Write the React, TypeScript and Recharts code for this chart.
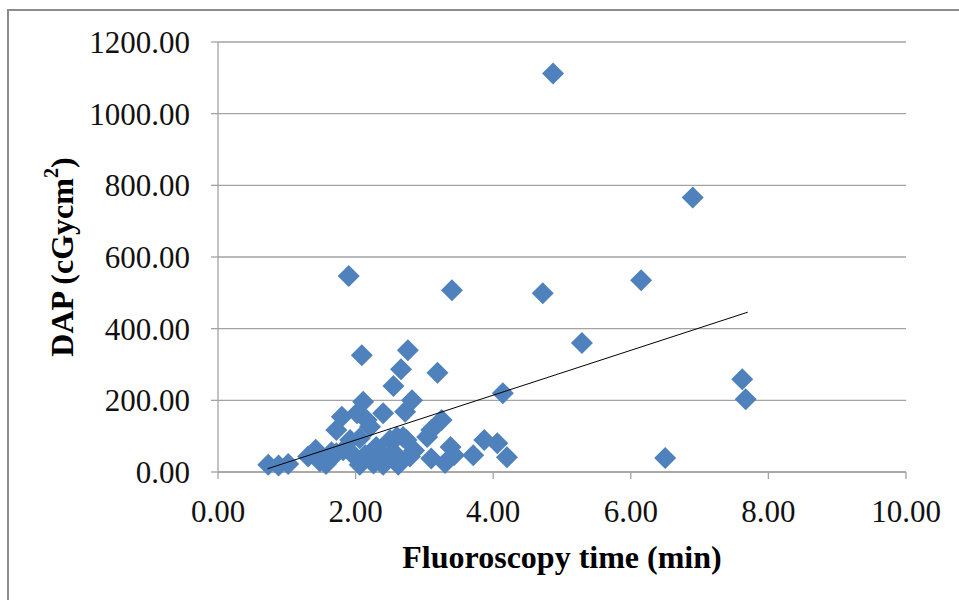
import React from 'react'
import {
  ScatterChart,
  Scatter,
  XAxis,
  YAxis,
  CartesianGrid,
  Label,
} from 'recharts'

// fluoroscopy time (min) / DAP (cGycm2) pairs
const TIMES = [
  0.73, 0.88, 1.02, 1.31, 1.42, 1.48, 1.57, 1.65, 1.72, 1.72,
  1.8, 1.82, 1.9, 1.92, 1.98, 2.02, 2.06, 2.06, 2.09, 2.11,
  2.14, 2.16, 2.21, 2.26, 2.3, 2.4, 2.4, 2.43, 2.5, 2.55,
  2.55, 2.6, 2.6, 2.62, 2.66, 2.69, 2.72, 2.74, 2.76, 2.79,
  2.82, 2.85, 3.04, 3.1, 3.1, 3.19, 3.25, 3.3, 3.38, 3.4,
  3.43, 3.71, 3.87, 4.06, 4.14, 4.2, 4.72, 4.87, 5.29, 6.15,
  6.5, 6.9, 7.62, 7.67,
]
const DAP = [
  20, 18, 22, 43, 62, 30, 22, 55, 117, 52,
  154, 61, 547, 89, 45, 164, 94, 20, 326, 196,
  47, 145, 126, 24, 70, 164, 20, 40, 89, 240,
  55, 43, 98, 20, 287, 98, 168, 89, 340, 43,
  200, 60, 98, 117, 38, 277, 145, 25, 70, 507,
  47, 47, 89, 80, 220, 41, 499, 1112, 360, 535,
  39, 766, 259, 203,
]

// linear trendline end points
const TREND_X = [0.72, 7.7]
const TREND_Y = [9, 446]

const X_TICKS = [0, 2, 4, 6, 8, 10]
const Y_TICKS = [0, 200, 400, 600, 800, 1000, 1200]

const points = TIMES.map((t, i) => ({ t, dap: DAP[i] }))
const trend = TREND_X.map((t, i) => ({ t, dap: TREND_Y[i] }))

const FONT = '"Liberation Serif", "Times New Roman", serif'
const BLUE = '#4f81bd'
const GRID = '#a3a3a3'

function Diamond(props: any) {
  const { cx, cy } = props
  if (cx == null || cy == null) return null
  const r = 11
  return (
    <polygon
      points={`${cx},${cy - r} ${cx + r},${cy} ${cx},${cy + r} ${cx - r},${cy}`}
      fill={BLUE}
    />
  )
}

const NoDot = () => <g />

function YTitle(props: any) {
  const vb = props.viewBox || {}
  const x = (vb.x ?? 0) + 62
  const y = (vb.y ?? 0) + (vb.height ?? 0) / 2
  return (
    <text
      x={x}
      y={y}
      transform={`rotate(-90 ${x} ${y})`}
      textAnchor="middle"
      dominantBaseline="central"
      fontFamily={FONT}
      fontWeight="bold"
      fontSize={32}
      fill="#000"
    >
      DAP (cGycm
      <tspan fontSize={20} dy={-11}>2</tspan>
      <tspan dy={11}>)</tspan>
    </text>
  )
}

function XTitle(props: any) {
  const vb = props.viewBox || {}
  return (
    <text
      x={(vb.x ?? 0) + (vb.width ?? 0) / 2}
      y={(vb.y ?? 0) + 85}
      textAnchor="middle"
      dominantBaseline="central"
      fontFamily={FONT}
      fontWeight="bold"
      fontSize={32}
      fill="#000"
    >
      Fluoroscopy time (min)
    </text>
  )
}

export default function App() {
  const tick = { fontFamily: FONT, fontSize: 31, fill: '#111' }
  return (
    <div
      style={{
        position: 'fixed',
        left: 0,
        top: 0,
        width: 959,
        height: 600,
        overflow: 'hidden',
        background: '#fff',
      }}
    >
      <div
        style={{
          position: 'absolute',
          left: 7,
          top: 9,
          width: 1000,
          height: 700,
          borderLeft: '2px solid #8c8c8c',
          borderTop: '2px solid #8c8c8c',
        }}
      />
      <div style={{ position: 'absolute', left: 0, top: 0 }}>
        <ScatterChart
          width={959}
          height={600}
          margin={{ top: 42, right: 53, bottom: 0, left: 0 }}
        >
          <CartesianGrid vertical={false} stroke={GRID} strokeWidth={1.3} />
          <XAxis
            type="number"
            dataKey="t"
            domain={[0, 10]}
            ticks={X_TICKS}
            tickFormatter={(v: number) => v.toFixed(2)}
            height={128}
            tickSize={7}
            tickMargin={21}
            stroke={GRID}
            strokeWidth={1.3}
            tick={tick}
            interval={0}
          >
            <Label content={<XTitle />} />
          </XAxis>
          <YAxis
            type="number"
            dataKey="dap"
            domain={[0, 1200]}
            ticks={Y_TICKS}
            tickFormatter={(v: number) => v.toFixed(2)}
            width={218}
            tickSize={7}
            tickMargin={21}
            stroke={GRID}
            strokeWidth={1.3}
            tick={tick}
            interval={0}
          >
            <Label content={<YTitle />} />
          </YAxis>
          <Scatter
            data={points}
            shape={<Diamond />}
            isAnimationActive={false}
          />
          {/* trendline on top of the markers */}
          <Scatter
            data={trend}
            line={{ stroke: '#000', strokeWidth: 1 }}
            shape={<NoDot />}
            isAnimationActive={false}
          />
        </ScatterChart>
      </div>
    </div>
  )
}
